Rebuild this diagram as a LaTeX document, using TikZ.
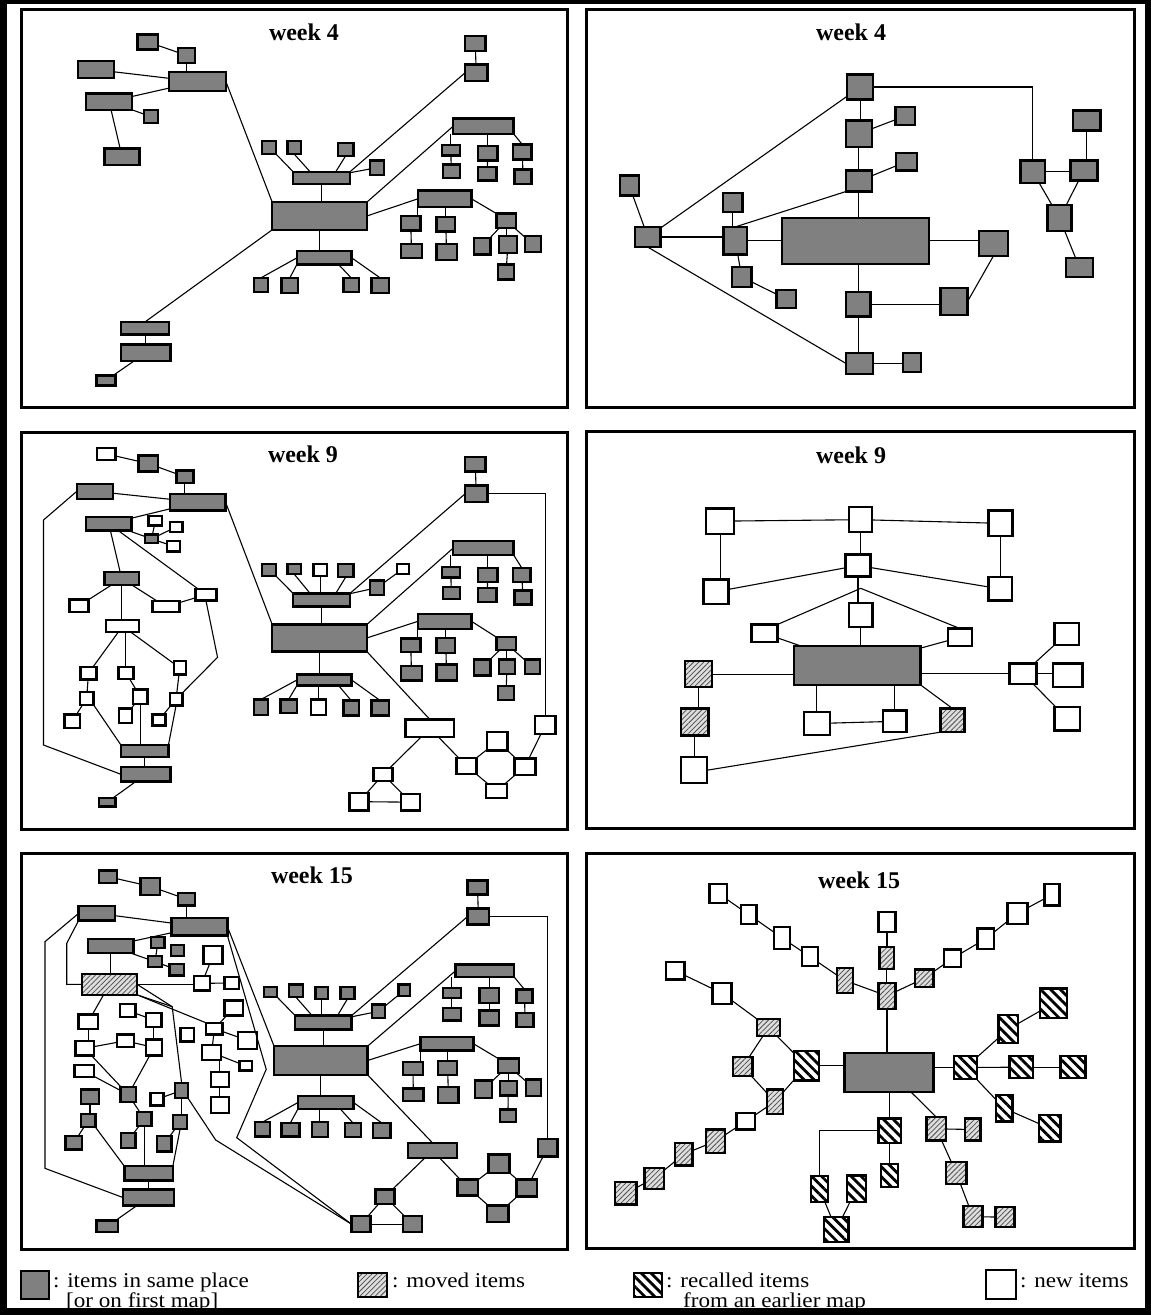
\documentclass[tikz,border=0pt]{standalone}
\usepackage{fontspec}
\setmainfont{Liberation Serif}
\newfontfamily\lgfont[FakeStretch=1.1]{Liberation Serif}
\usetikzlibrary{fit,calc,patterns.meta}
\definecolor{boxgray}{RGB}{128,128,128}
\definecolor{hatchbg}{RGB}{222,222,222}
% \bx{name}{style}{x1}{y1}{x2}{y2}: a box spanning two corners
\newcommand\bx[6]{\node[#2,fit={(#3,#4)(#5,#6)}] (#1) {};}
\begin{document}
\begin{tikzpicture}[x=1pt,y=-1pt,
  box/.style={draw=black,line width=2.4pt,rectangle,inner sep=-1.2pt,outer sep=0pt},
  gb/.style={box,fill=boxgray},
  wb/.style={box,fill=white},
  mb/.style={box,preaction={fill=hatchbg},pattern={Lines[angle=45,distance=3.6pt,line width=0.75pt]},pattern color=black!70},
  rb/.style={box,preaction={fill=white},pattern={Lines[angle=-45,distance=7pt,line width=2.8pt]},pattern color=black},
  cn/.style={draw=black,line width=1.1pt},
  pnl/.style={draw=black,line width=3pt},
  wk/.style={font=\bfseries\fontsize{24}{24}\selectfont,inner sep=0pt},
  lg/.style={font=\lgfont\fontsize{21}{16}\selectfont,inner sep=0pt},
  zoomed/.style={x=0.36873pt,y=-0.33333pt}]
\useasboundingbox (0,0) rectangle (1151,1315);
\fill[white] (0,0) rectangle (1151,1315);

% ---------- panel frames and titles ----------
\draw[pnl] (21,9) rectangle (567,407);
\draw[pnl] (586,9) rectangle (1134,407);
\draw[pnl] (21,432) rectangle (567,829);
\draw[pnl] (586,431) rectangle (1134,828);
\draw[pnl] (21,853) rectangle (567,1249);
\draw[pnl] (586,853) rectangle (1134,1248);
\node[wk,anchor=base] (ttl1) at (304,40) {week 4};
\node[wk,anchor=base] (ttl2) at (851,40) {week 4};
\node[wk,anchor=base] (ttl3) at (303,462) {week 9};
\node[wk,anchor=base] (ttl4) at (851,463) {week 9};
\node[wk,anchor=base] (ttl5) at (312,883) {week 15};
\node[wk,anchor=base] (ttl6) at (859,888) {week 15};

% ---------- top left: week 4 ----------
\begin{scope}[shift={(0,0)},zoomed]
\bx{tla1}{gb}{370}{100}{432}{152}
\bx{tla2}{gb}{480}{140}{532}{192}
\bx{tla3}{gb}{208}{180}{312}{238}
\bx{tla4}{gb}{455}{213}{616}{277}
\bx{tla5}{gb}{230}{277}{362}{333}
\bx{tla6}{gb}{388}{327}{432}{373}
\bx{tla7}{gb}{280}{442}{382}{498}
\bx{tlb1}{gb}{1258}{105}{1320}{157}
\bx{tlb2}{gb}{1258}{190}{1325}{247}
\bx{tlc1}{gb}{708}{420}{752}{466}
\bx{tlc2}{gb}{776}{420}{820}{466}
\bx{tlc3}{gb}{913}{425}{962}{471}
\bx{tlc4}{gb}{1000}{478}{1045}{528}
\bx{tlc5}{gb}{792}{512}{952}{556}
\bx{tlC}{gb}{735}{603}{998}{693}
\bx{tld0}{gb}{1226}{352}{1396}{405}
\bx{tld1}{gb}{1195}{432}{1250}{470}
\bx{tld2}{gb}{1198}{490}{1250}{538}
\bx{tld3}{gb}{1293}{435}{1352}{485}
\bx{tld4}{gb}{1293}{497}{1350}{545}
\bx{tld5}{gb}{1388}{430}{1445}{482}
\bx{tld6}{gb}{1392}{505}{1445}{555}
\bx{tle0}{gb}{1130}{568}{1282}{625}
\bx{tle1}{gb}{1084}{645}{1144}{695}
\bx{tle2}{gb}{1084}{728}{1148}{778}
\bx{tle3}{gb}{1180}{648}{1238}{698}
\bx{tle4}{gb}{1180}{728}{1242}{784}
\bx{tle5}{gb}{1343}{637}{1403}{687}
\bx{tle6}{gb}{1282}{710}{1333}{767}
\bx{tle7}{gb}{1350}{705}{1405}{762}
\bx{tle8}{gb}{1420}{705}{1470}{760}
\bx{tle9}{gb}{1347}{790}{1398}{842}
\bx{tlf0}{gb}{802}{750}{957}{797}
\bx{tlf1}{gb}{685}{830}{730}{880}
\bx{tlf2}{gb}{760}{830}{812}{882}
\bx{tlf3}{gb}{928}{830}{977}{880}
\bx{tlf4}{gb}{1004}{830}{1058}{882}
\bx{tlg1}{gb}{325}{962}{462}{1007}
\bx{tlg2}{gb}{325}{1030}{466}{1087}
\bx{tlg3}{gb}{258}{1123}{316}{1160}
\foreach \a/\b in {a1/a2,a3/a4,a5/a4,a5/a6,a5/a7,g2/g3,c4/c5,b1/b2,d1/d2,d3/d4,d5/d6,
  e1/e2,e3/e4,e5/e6,e5/e8,e7/e9}
  \draw[cn] (tl\a)--(tl\b);
\draw[cn] (tla2.south)--(tla2.south|-tla4.north);
\draw[cn] (tla4.east)--(tlC.north west);
\draw[cn] (tlC.south west)--(tlg1.north);
\draw[cn] (tlg1.south)--(tlg1.south|-tlg2.north);
\draw[cn] (tlc5.south)--(tlc5.south|-tlC.north);
\draw[cn] (tlc1.south east)--(tlc5.north west);
\draw[cn] (tlc2.south)--($(tlc5.north west)!.3!(tlc5.north east)$);
\draw[cn] (tlc3.south)--($(tlc5.north west)!.75!(tlc5.north east)$);
\draw[cn] (tlc5.north east)--(tlb2.west);
\draw[cn] (tlC.north east)--(tld0.west);
\draw[cn] (tld1.north)--(tld1.north|-tld0.south);
\draw[cn] (tld3.north)--(tld3.north|-tld0.south);
\draw[cn] (tld0.south east)--(tld5.north);
\draw[cn] (tlC.east)--(tle0.west);
\draw[cn] (tle0.south west)--(tle0.south west|-tle1.north);
\draw[cn] (tle3.north)--(tle3.north|-tle0.south);
\draw[cn] (tle0.east)--(tle5.north west);
\draw[cn] (tle5.south)--(tle5.south|-tle7.north);
\draw[cn] (tlC.south)--(tlC.south|-tlf0.north);
\draw[cn] (tlf0.west)--(tlf1.north);
\draw[cn] (tlf0.south west)--(tlf2.north);
\draw[cn] ($(tlf0.south west)!.76!(tlf0.south east)$)--(tlf3.north);
\draw[cn] (tlf0.east)--(tlf4.north);
\end{scope}

% ---------- top right: week 4 ----------
\begin{scope}[shift={(575,0)},zoomed]
\bx{trh0}{gb}{735}{220}{812}{302}
\bx{trh1}{gb}{732}{358}{808}{444}
\bx{trh2}{gb}{866}{318}{925}{378}
\bx{trh3}{gb}{732}{508}{808}{578}
\bx{trh4}{gb}{868}{455}{930}{515}
\bx{trhL}{gb}{160}{677}{235}{745}
\bx{trhM}{gb}{118}{523}{176}{590}
\bx{trh5}{gb}{398}{575}{457}{640}
\bx{trh6}{gb}{400}{677}{470}{767}
\bx{trC}{gb}{558}{650}{963}{795}
\bx{trh7}{gb}{1092}{690}{1177}{772}
\bx{trh8}{gb}{422}{797}{482}{865}
\bx{trh9}{gb}{543}{866}{603}{928}
\bx{trh10}{gb}{732}{872}{805}{953}
\bx{trh11}{gb}{988}{860}{1068}{948}
\bx{trh12}{gb}{732}{1055}{812}{1126}
\bx{trh13}{gb}{886}{1055}{942}{1120}
\bx{trr1}{gb}{1348}{328}{1428}{395}
\bx{trr2}{gb}{1205}{478}{1278}{553}
\bx{trr3}{gb}{1340}{478}{1420}{545}
\bx{trr4}{gb}{1278}{612}{1350}{697}
\bx{trr5}{gb}{1328}{770}{1408}{835}
\foreach \a/\b in {h1/h2,h3/h4,hL/h0,hL/hM,h6/h8,h8/h9,r2/r4,r3/r4,r4/r5}
  \draw[cn] (tr\a)--(tr\b);
\draw[cn] (trh0.east) -| (trr2.north);
\draw[cn] (trh0.south)--(trh0.south|-trh1.north);
\draw[cn] (trh1.south)--(trh1.south|-trh3.north);
\draw[cn] (trh3.south)--(trh3.south|-trC.north);
\draw[cn] (trhL.east)--(trhL.east-|trh6.west);
\draw[cn] (trh3.south west)--(trh6.north);
\draw[cn] (trh5.south)--(trh5.south|-trh6.north);
\draw[cn] (trh6.east)--(trh6.east-|trC.west);
\draw[cn] (trC.east)--(trC.east-|trh7.west);
\draw[cn] (trh10.north)--(trh10.north|-trC.south);
\draw[cn] (trh10.east)--(trh10.east-|trh11.west);
\draw[cn] (trh11.east)--(trh7.south);
\draw[cn] (trh10.south)--(trh10.south|-trh12.north);
\draw[cn] (trh12.east)--(trh12.east-|trh13.west);
\draw[cn] (trhL.south)--(trh12.west);
\draw[cn] (trr1.south)--(trr1.south|-trr3.north);
\draw[cn] (trr2.east)--(trr2.east-|trr3.west);
\end{scope}

% ---------- middle left: week 9 ----------
\begin{scope}[shift={(0,420)},zoomed]
\bx{mlm1}{wb}{260}{80}{316}{123}
\bx{mlm2}{gb}{372}{103}{432}{158}
\bx{mlm3}{gb}{475}{148}{528}{193}
\bx{mlm4}{gb}{205}{188}{310}{240}
\bx{mlm5}{gb}{457}{218}{615}{275}
\bx{mlm6}{gb}{230}{287}{360}{335}
\bx{mlm7}{wb}{400}{284}{443}{320}
\bx{mlm8}{wb}{457}{302}{498}{340}
\bx{mlm9}{gb}{390}{340}{432}{373}
\bx{mlm10}{wb}{450}{360}{492}{398}
\bx{mlm11}{gb}{280}{453}{380}{498}
\bx{mlm12}{wb}{185}{535}{243}{580}
\bx{mlm13}{wb}{410}{540}{490}{580}
\bx{mlm14}{wb}{527}{503}{590}{545}
\bx{mlm15}{wb}{285}{597}{380}{640}
\bx{mlm16}{wb}{215}{737}{265}{782}
\bx{mlm17}{wb}{318}{737}{365}{780}
\bx{mlm18}{wb}{468}{720}{507}{767}
\bx{mlm19}{wb}{213}{812}{257}{858}
\bx{mlm20}{wb}{358}{805}{403}{855}
\bx{mlm21}{wb}{457}{815}{498}{860}
\bx{mlm22}{wb}{172}{880}{220}{927}
\bx{mlm23}{wb}{320}{862}{362}{912}
\bx{mlm24}{wb}{410}{880}{452}{920}
\bx{mlm25}{gb}{325}{972}{460}{1015}
\bx{mlm26}{gb}{325}{1038}{466}{1088}
\bx{mlm27}{gb}{265}{1130}{316}{1163}
\bx{mlC}{gb}{735}{610}{998}{698}
\bx{mlc1}{gb}{708}{428}{752}{472}
\bx{mlc2}{gb}{776}{428}{820}{466}
\bx{mlc3}{wb}{847}{428}{890}{472}
\bx{mlc4}{gb}{913}{428}{962}{475}
\bx{mlc5}{gb}{1000}{478}{1045}{528}
\bx{mlc6}{wb}{1073}{428}{1112}{466}
\bx{mlc7}{gb}{792}{517}{952}{563}
\bx{mlb1}{gb}{1258}{108}{1320}{158}
\bx{mlb2}{gb}{1258}{193}{1325}{250}
\bx{mld0}{gb}{1226}{360}{1396}{408}
\bx{mld1}{gb}{1195}{438}{1250}{476}
\bx{mld2}{gb}{1198}{497}{1250}{540}
\bx{mld3}{gb}{1293}{440}{1352}{490}
\bx{mld4}{gb}{1293}{500}{1350}{550}
\bx{mld5}{gb}{1388}{440}{1442}{490}
\bx{mld6}{gb}{1392}{508}{1445}{557}
\bx{mle0}{gb}{1130}{578}{1282}{630}
\bx{mle1}{gb}{1084}{652}{1144}{700}
\bx{mle2}{gb}{1084}{735}{1148}{785}
\bx{mle3}{gb}{1180}{650}{1238}{703}
\bx{mle4}{gb}{1180}{730}{1242}{785}
\bx{mle5}{gb}{1343}{648}{1403}{693}
\bx{mle6}{gb}{1282}{715}{1333}{770}
\bx{mle7}{gb}{1350}{715}{1400}{765}
\bx{mle8}{gb}{1420}{715}{1467}{765}
\bx{mle9}{gb}{1347}{795}{1398}{843}
\bx{mlf0}{gb}{802}{760}{957}{800}
\bx{mlf1}{gb}{685}{835}{730}{888}
\bx{mlf2}{gb}{757}{835}{808}{883}
\bx{mlf3}{wb}{840}{835}{887}{888}
\bx{mlf4}{gb}{928}{838}{977}{890}
\bx{mlf5}{gb}{1004}{838}{1058}{890}
\bx{mln0}{wb}{1097}{895}{1235}{955}
\bx{mln1}{wb}{1448}{885}{1510}{945}
\bx{mln2}{wb}{1318}{933}{1380}{995}
\bx{mln3}{wb}{1235}{1010}{1295}{1065}
\bx{mln4}{wb}{1392}{1012}{1455}{1068}
\bx{mln5}{wb}{1315}{1088}{1378}{1138}
\bx{mln6}{wb}{1010}{1040}{1068}{1087}
\bx{mln7}{wb}{945}{1115}{1003}{1175}
\bx{mln8}{wb}{1085}{1118}{1143}{1175}
\coordinate (mlp1) at (118,300);
\coordinate (mlp2) at (118,975);
\coordinate (mlp3) at (590,712);
\foreach \a/\b in {m1/m2,m2/m3,m4/m5,m6/m5,m6/m9,m9/m7,m9/m8,m9/m10,m6/m11,m6/m14,
  m11/m12,m11/m13,m13/m14,m15/m16,m15/m18,m16/m19,m19/m22,m17/m20,m20/m23,m18/m21,
  m21/m24,m26/m27,c5/c7,c6/c5,b1/b2,d1/d2,d3/d4,d5/d6,e1/e2,e3/e4,e5/e6,e5/e8,e7/e9,
  n0/n6,n6/n7,n6/n8,n7/n8,n0/n3,n3/n2,n2/n4,n1/n4,n3/n5,n4/n5}
  \draw[cn] (ml\a)--(ml\b);
\draw[cn] (mlm3.south)--(mlm3.south|-mlm5.north);
\draw[cn] (mlm4.west)--(mlp1)--(mlp2)--(mlm26.west);
\draw[cn] (mlm11.south)--(mlm11.south|-mlm15.north);
\draw[cn] (mlm17.north)--(mlm17.north|-mlm15.south);
\draw[cn] (mlm14.south)--(mlp3)--(mlm21.north east);
\draw[cn] (mlm19.south east)--(mlm25.north west);
\draw[cn] (mlm20.south)--(mlm20.south|-mlm25.north);
\draw[cn] (mlm21.south)--(mlm25.north east);
\draw[cn] (mlm25.south)--(mlm25.south|-mlm26.north);
\draw[cn] (mlm5.east)--(mlC.north west);
\draw[cn] (mlc1.south east)--(mlc7.north west);
\draw[cn] (mlc2.south)--($(mlc7.north west)!.3!(mlc7.north east)$);
\draw[cn] (mlc3.south)--(mlc3.south|-mlc7.north);
\draw[cn] (mlc4.south)--($(mlc7.north west)!.75!(mlc7.north east)$);
\draw[cn] (mlc7.south)--(mlc7.south|-mlC.north);
\draw[cn] (mlc7.north east)--(mlb2.west);
\draw[cn] (mlb2.east) -| (mln1.north);
\draw[cn] (mlC.north east)--(mld0.west);
\draw[cn] (mld1.north)--(mld1.north|-mld0.south);
\draw[cn] (mld3.north)--(mld3.north|-mld0.south);
\draw[cn] (mld0.south east)--(mld5.north);
\draw[cn] (mlC.east)--(mle0.west);
\draw[cn] (mle0.south west)--(mle0.south west|-mle1.north);
\draw[cn] (mle3.north)--(mle3.north|-mle0.south);
\draw[cn] (mle0.east)--(mle5.north west);
\draw[cn] (mle5.south)--(mle5.south|-mle7.north);
\draw[cn] (mlC.south)--(mlC.south|-mlf0.north);
\draw[cn] (mlf0.west)--(mlf1.north);
\draw[cn] (mlf0.south west)--(mlf2.north);
\draw[cn] (mlf3.north)--(mlf3.north|-mlf0.south);
\draw[cn] ($(mlf0.south west)!.76!(mlf0.south east)$)--(mlf4.north);
\draw[cn] (mlf0.east)--(mlf5.north);
\draw[cn] (mlC.south east)--(mln0.north);
\end{scope}

% ---------- middle right: week 9 ----------
\begin{scope}[shift={(575,420)},zoomed]
\bx{mrp1}{wb}{352}{262}{435}{345}
\bx{mrp2}{wb}{740}{258}{808}{340}
\bx{mrp3}{wb}{1118}{268}{1190}{352}
\bx{mrp4}{wb}{730}{400}{805}{473}
\bx{mrp5}{wb}{345}{475}{420}{555}
\bx{mrp6}{wb}{1118}{468}{1188}{545}
\bx{mrp7}{wb}{740}{545}{810}{625}
\bx{mrp8}{wb}{475}{610}{552}{670}
\bx{mrp9}{wb}{1008}{622}{1080}{682}
\bx{mrC}{gb}{590}{675}{940}{798}
\bx{mrq1}{mb}{295}{720}{375}{805}
\bx{mrq2}{mb}{285}{862}{365}{950}
\bx{mrq3}{wb}{285}{1008}{362}{1093}
\bx{mrq4}{wb}{617}{873}{695}{948}
\bx{mrq5}{wb}{832}{868}{902}{940}
\bx{mrq6}{mb}{988}{862}{1060}{940}
\bx{mrs0}{wb}{1175}{727}{1255}{795}
\bx{mrs1}{wb}{1297}{605}{1370}{678}
\bx{mrs2}{wb}{1293}{727}{1380}{805}
\bx{mrs3}{wb}{1297}{857}{1373}{935}
\coordinate (mrj) at (775,505);
\foreach \a/\b in {p1/p2,p2/p3,p4/p5,p4/p6,p8/C,p9/C,q4/q5,s0/s1,s0/s3}
  \draw[cn] (mr\a)--(mr\b);
\draw[cn] (mrp1.south)--(mrp1.south|-mrp5.north);
\draw[cn] (mrp3.south)--(mrp3.south|-mrp6.north);
\draw[cn] (mrp2.south)--(mrp2.south|-mrp4.north);
\draw[cn] (mrp4.south)--(mrp4.south|-mrp7.north);
\draw[cn] (mrj)--(mrp8.north east);
\draw[cn] (mrj)--(mrp9.north);
\draw[cn] (mrp7.south)--(mrp7.south|-mrC.north);
\draw[cn] (mrq1.east)--(mrq1.east-|mrC.west);
\draw[cn] (mrq1.south)--(mrq1.south|-mrq2.north);
\draw[cn] (mrq2.south)--(mrq2.south|-mrq3.north);
\draw[cn] (mrq4.north)--(mrq4.north|-mrC.south);
\draw[cn] (mrq5.north)--(mrq5.north|-mrC.south);
\draw[cn] (mrC.south east)--(mrq6.north);
\draw[cn] (mrq6.south west)--(mrq3.east);
\draw[cn] (mrs0.west)--(mrs0.west-|mrC.east);
\draw[cn] (mrs0.east)--(mrs0.east-|mrs2.west);
\end{scope}

% ---------- bottom left: week 15 ----------
\begin{scope}[shift={(0,840)},zoomed]
\bx{blk1}{gb}{265}{88}{320}{132}
\bx{blk2}{gb}{378}{110}{437}{168}
\bx{blk3}{gb}{480}{155}{532}{200}
\bx{blk4}{gb}{210}{195}{315}{245}
\bx{blk5}{gb}{462}{230}{620}{290}
\bx{blk6}{gb}{235}{293}{365}{343}
\bx{blk7}{gb}{407}{288}{449}{328}
\bx{blk8}{gb}{461}{312}{503}{352}
\bx{blk9}{gb}{398}{345}{443}{385}
\bx{blk10}{gb}{456}{368}{502}{410}
\bx{blk11}{mb}{219}{398}{375}{468}
\bx{blk12}{wb}{549}{315}{607}{375}
\bx{blk13}{wb}{523}{405}{572}{455}
\bx{blk14}{wb}{606}{408}{651}{450}
\bx{blk15}{wb}{210}{520}{269}{570}
\bx{blk16}{wb}{322}{488}{371}{535}
\bx{blk17}{wb}{393}{515}{441}{565}
\bx{blk18}{wb}{314}{580}{366}{625}
\bx{blk19}{wb}{201}{600}{258}{650}
\bx{blk20}{wb}{393}{595}{443}{650}
\bx{blk21}{wb}{199}{672}{258}{715}
\bx{blk22}{wb}{486}{560}{529}{608}
\bx{blk23}{wb}{556}{545}{607}{587}
\bx{blk24}{wb}{606}{478}{662}{530}
\bx{blk25}{wb}{545}{612}{603}{663}
\bx{blk26}{wb}{642}{572}{700}{630}
\bx{blk27}{wb}{646}{660}{687}{695}
\bx{blk28}{wb}{569}{692}{624}{745}
\bx{blk29}{wb}{569}{767}{624}{822}
\bx{blk30}{gb}{217}{745}{271}{795}
\bx{blk31}{gb}{324}{738}{372}{790}
\bx{blk32}{wb}{405}{755}{447}{800}
\bx{blk33}{gb}{472}{725}{513}{778}
\bx{blk34}{gb}{217}{818}{262}{865}
\bx{blk35}{gb}{369}{812}{414}{862}
\bx{blk36}{gb}{466}{822}{511}{870}
\bx{blk37}{gb}{174}{885}{226}{932}
\bx{blk38}{gb}{325}{875}{371}{927}
\bx{blk39}{gb}{423}{885}{468}{938}
\bx{blk40}{gb}{334}{975}{472}{1025}
\bx{blk41}{gb}{330}{1045}{475}{1100}
\bx{blk42}{gb}{258}{1138}{324}{1180}
\bx{blC}{gb}{740}{615}{1000}{708}
\bx{blc1}{gb}{712}{437}{755}{475}
\bx{blc2}{gb}{780}{430}{825}{475}
\bx{blc3}{gb}{852}{437}{893}{480}
\bx{blc4}{gb}{920}{437}{965}{480}
\bx{blc5}{gb}{1005}{490}{1048}{538}
\bx{blc6}{gb}{1078}{430}{1115}{472}
\bx{blc7}{gb}{797}{523}{957}{572}
\bx{blb1}{gb}{1265}{118}{1325}{167}
\bx{blb2}{gb}{1265}{202}{1330}{257}
\bx{bld0}{gb}{1232}{370}{1398}{415}
\bx{bld1}{gb}{1198}{440}{1253}{478}
\bx{bld2}{gb}{1198}{500}{1253}{545}
\bx{bld3}{gb}{1297}{440}{1357}{492}
\bx{bld4}{gb}{1297}{508}{1357}{560}
\bx{bld5}{gb}{1398}{445}{1447}{492}
\bx{bld6}{gb}{1398}{515}{1450}{565}
\bx{ble0}{gb}{1137}{587}{1287}{635}
\bx{ble1}{gb}{1090}{662}{1150}{708}
\bx{ble2}{gb}{1090}{742}{1152}{787}
\bx{ble3}{gb}{1185}{660}{1243}{708}
\bx{ble4}{gb}{1185}{738}{1247}{792}
\bx{ble5}{gb}{1348}{652}{1410}{703}
\bx{ble6}{gb}{1285}{718}{1337}{777}
\bx{ble7}{gb}{1352}{720}{1405}{770}
\bx{ble8}{gb}{1423}{715}{1470}{772}
\bx{ble9}{gb}{1352}{805}{1403}{850}
\bx{blf0}{gb}{805}{765}{962}{810}
\bx{blf1}{gb}{688}{843}{735}{893}
\bx{blf2}{gb}{760}{845}{815}{893}
\bx{blf3}{gb}{843}{842}{892}{895}
\bx{blf4}{gb}{932}{845}{982}{895}
\bx{blf5}{gb}{1008}{845}{1062}{897}
\bx{bln0}{gb}{1103}{905}{1243}{958}
\bx{bln1}{gb}{1455}{893}{1515}{953}
\bx{bln2}{gb}{1322}{940}{1385}{1003}
\bx{bln3}{gb}{1238}{1015}{1300}{1070}
\bx{bln4}{gb}{1398}{1015}{1460}{1073}
\bx{bln5}{gb}{1318}{1093}{1382}{1150}
\bx{bln6}{gb}{1015}{1045}{1073}{1095}
\bx{bln7}{gb}{950}{1125}{1008}{1180}
\bx{bln8}{gb}{1090}{1125}{1148}{1180}
\coordinate (bla) at (122,305);
\coordinate (blb) at (122,985);
\coordinate (blc) at (181,310);
\coordinate (bld) at (181,433);
\coordinate (ble) at (467,500);
\coordinate (blf) at (722,688);
\coordinate (blg) at (642,893);
\coordinate (blh) at (585,900);
\foreach \a/\b in {k1/k2,k2/k3,k4/k5,k6/k5,k6/k9,k7/k9,k9/k10,k12/k13,k13/k14,
  k24/k23,k23/k26,k23/k25,k25/k27,k11/k15,k16/k17,k18/k19,k18/k20,k19/k31,k21/k31,
  k20/k31,k31/k35,k35/k38,k34/k37,k32/k33,k36/k39,k41/k42,
  c5/c7,c6/c5,b1/b2,d1/d2,d3/d4,d5/d6,e1/e2,e3/e4,e5/e6,e5/e8,e7/e9,
  n0/n6,n6/n7,n6/n8,n7/n8,n0/n3,n3/n2,n2/n4,n1/n4,n3/n5,n4/n5}
  \draw[cn] (bl\a)--(bl\b);
\draw[cn] (blk3.south)--(blk3.south|-blk5.north);
\draw[cn] (blk4.west)--(bla)--(blb)--(blk41.west);
\draw[cn] (blk4.south west)--(blc)--(bld)--(blk11.west);
\draw[cn] (blk6.south)--(blk6.south|-blk11.north);
\draw[cn] (blk11.east)--(blk11.east-|blk13.west);
\draw[cn] (blk11.south east)--(blk23.north west);
\draw[cn] (blk11.east)--(ble);
\draw[cn] (blk11.south east)--(ble)--(blk33.north);
\draw[cn] (blk28.north)--(blk28.north|-blk25.south);
\draw[cn] (blk28.south)--(blk28.south|-blk29.north);
\draw[cn] (blk5.south east)--(blf)--(blg)--(bln7.west);
\draw[cn] (blk33.south east)--(blh)--(bln7.west);
\draw[cn] (blk33.south)--(blk33.south|-blk36.north);
\draw[cn] (blk36.south)--(blk40.north east);
\draw[cn] (blk17.south)--(blk17.south|-blk20.north);
\draw[cn] (blk15.south)--(blk15.south|-blk19.north);
\draw[cn] (blk35.south)--(blk35.south|-blk40.north);
\draw[cn] (blk30.south)--(blk30.south|-blk34.north);
\draw[cn] (blk34.south east)--(blk40.north west);
\draw[cn] (blk40.south)--(blk40.south|-blk41.north);
\draw[cn] (blk5.east)--(blC.north west);
\draw[cn] (blc1.south east)--(blc7.north west);
\draw[cn] (blc2.south)--($(blc7.north west)!.3!(blc7.north east)$);
\draw[cn] (blc3.south)--(blc3.south|-blc7.north);
\draw[cn] (blc4.south)--($(blc7.north west)!.75!(blc7.north east)$);
\draw[cn] (blc7.south)--(blc7.south|-blC.north);
\draw[cn] (blc7.north east)--(blb2.west);
\draw[cn] (blb2.east) -| (bln1.north);
\draw[cn] (blC.north east)--(bld0.west);
\draw[cn] (bld1.north)--(bld1.north|-bld0.south);
\draw[cn] (bld3.north)--(bld3.north|-bld0.south);
\draw[cn] (bld0.south east)--(bld5.north);
\draw[cn] (blC.east)--(ble0.west);
\draw[cn] (ble0.south west)--(ble0.south west|-ble1.north);
\draw[cn] (ble3.north)--(ble3.north|-ble0.south);
\draw[cn] (ble0.east)--(ble5.north west);
\draw[cn] (ble5.south)--(ble5.south|-ble7.north);
\draw[cn] (blC.south)--(blC.south|-blf0.north);
\draw[cn] (blf0.west)--(blf1.north);
\draw[cn] (blf0.south west)--(blf2.north);
\draw[cn] (blf3.north)--(blf3.north|-blf0.south);
\draw[cn] ($(blf0.south west)!.76!(blf0.south east)$)--(blf4.north);
\draw[cn] (blf0.east)--(blf5.north);
\draw[cn] (blC.south east)--(bln0.north);
\end{scope}

% ---------- bottom right: week 15 ----------
\begin{scope}[shift={(575,840)},zoomed]
\bx{brt1}{wb}{362}{128}{415}{192}
\bx{brt2}{wb}{447}{192}{495}{255}
\bx{brt3}{wb}{537}{258}{587}{330}
\bx{brt4}{wb}{612}{318}{662}{382}
\bx{brt5}{mb}{707}{380}{757}{463}
\bx{brt6}{wb}{820}{213}{872}{280}
\bx{brt7}{mb}{822}{318}{868}{390}
\bx{brt8}{mb}{820}{425}{872}{510}
\bx{brt9}{mb}{918}{385}{975}{445}
\bx{brt10}{wb}{998}{325}{1050}{385}
\bx{brt11}{wb}{1088}{262}{1140}{330}
\bx{brt12}{wb}{1170}{185}{1230}{255}
\bx{brt13}{wb}{1270}{128}{1317}{200}
\bx{bru1}{wb}{243}{362}{300}{422}
\bx{bru2}{wb}{370}{425}{428}{495}
\bx{bru3}{mb}{490}{533}{560}{592}
\bx{bru4}{mb}{425}{648}{485}{712}
\bx{bru5}{rb}{590}{630}{665}{725}
\bx{bru6}{mb}{517}{745}{567}{825}
\bx{bru7}{wb}{435}{815}{492}{872}
\bx{bru8}{mb}{352}{865}{410}{942}
\bx{bru9}{mb}{268}{905}{322}{980}
\bx{bru10}{mb}{185}{980}{245}{1050}
\bx{bru11}{mb}{105}{1022}{170}{1097}
\bx{brC}{gb}{728}{635}{975}{760}
\bx{brv1}{rb}{1025}{645}{1093}{720}
\bx{brv2}{rb}{1145}{522}{1205}{613}
\bx{brv3}{rb}{1258}{442}{1337}{538}
\bx{brv4}{rb}{1175}{645}{1245}{718}
\bx{brv5}{rb}{1313}{645}{1388}{718}
\bx{brv6}{rb}{1138}{762}{1190}{848}
\bx{brv7}{rb}{1255}{822}{1320}{908}
\bx{brw1}{rb}{820}{832}{888}{912}
\bx{brw2}{rb}{827}{968}{880}{1045}
\bx{brw3}{rb}{637}{1005}{690}{1090}
\bx{brw4}{rb}{735}{1003}{792}{1090}
\bx{brw5}{rb}{672}{1128}{745}{1210}
\bx{brx1}{mb}{950}{828}{1010}{905}
\bx{brx2}{mb}{1055}{832}{1103}{905}
\bx{brx3}{mb}{1003}{963}{1065}{1035}
\bx{brx4}{mb}{1050}{1095}{1108}{1165}
\bx{brx5}{mb}{1137}{1098}{1195}{1165}
\foreach \a/\b in {t1/t2,t2/t3,t3/t4,t4/t5,t5/t8,t8/t9,t9/t10,t10/t11,t11/t12,t12/t13,
  u1/u2,u2/u3,u3/u4,u3/u5,u4/u6,u5/u6,u6/u7,u7/u8,u8/u9,u9/u10,u10/u11,
  v1/v4,v4/v5,v1/v2,v2/v3,v1/v6,v6/v7,w3/w5,w4/w5,x1/x2,x1/x3,x3/x4,x4/x5}
  \draw[cn] (br\a)--(br\b);
\draw[cn] (brt6.south)--(brt6.south|-brt7.north);
\draw[cn] (brt7.south)--(brt7.south|-brt8.north);
\draw[cn] (brt8.south)--(brt8.south|-brC.north);
\draw[cn] (bru5.east)--(bru5.east-|brC.west);
\draw[cn] (brv1.west)--(brv1.west-|brC.east);
\draw[cn] (brw1.north)--(brw1.north|-brC.south);
\draw[cn] (brw1.south)--(brw1.south|-brw2.north);
\draw[cn] (brw1.west) -| (brw3.north);
\draw[cn] ($(brC.south west)!.75!(brC.south east)$)--(brx1.north);
\end{scope}

% ---------- legend ----------
\node[gb,fit={(20,1270)(50,1300)}] (lgA) {};
\node[lg,anchor=base west] (lgAt) at (53,1287) {: items in same place};
\node[lg,anchor=base west] (lgAu) at (66,1307) {[or on first map]};
\node[mb,fit={(357,1272)(388,1298)}] (lgB) {};
\node[lg,anchor=base west] (lgBt) at (392,1287) {: moved items};
\node[rb,fit={(633,1272)(663,1298)}] (lgC) {};
\node[lg,anchor=base west] (lgCt) at (666,1287) {: recalled items};
\node[lg,anchor=base west] (lgCu) at (683,1307) {from an earlier map};
\node[wb,fit={(985,1269)(1017,1300)}] (lgD) {};
\node[lg,anchor=base west] (lgDt) at (1020,1287) {: new items};

% ---------- outer frame ----------
\fill[black] (0,0) rectangle (7,1315);
\fill[black] (0,0) rectangle (1151,4);
\fill[black] (1145,0) rectangle (1151,1315);
\fill[black] (0,1308) rectangle (1151,1315);
\end{tikzpicture}
\end{document}
